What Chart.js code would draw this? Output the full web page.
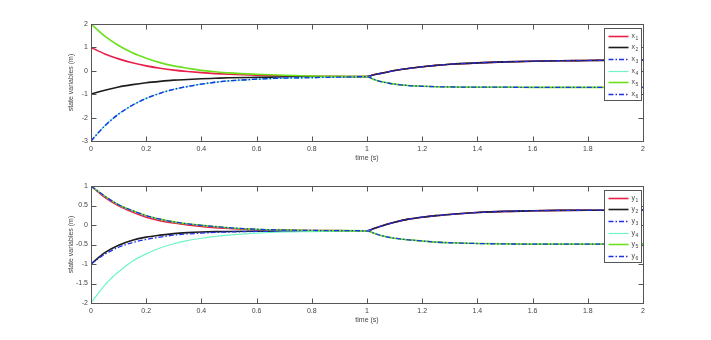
<!DOCTYPE html>
<html><head><meta charset="utf-8">
<script src="https://cdn.jsdelivr.net/npm/chart.js@4.4.1/dist/chart.umd.min.js"></script>
<style>
html,body{margin:0;padding:0;background:#fff;width:711px;height:340px;overflow:hidden}
.box{position:absolute;left:0;width:711px;height:170px}
</style></head><body>
<div class="box" style="top:0"><canvas id="c1"></canvas></div>
<div class="box" style="top:162px"><canvas id="c2"></canvas></div>
<script>
// ---- data ----
const time = [0,0.05,0.1,0.15,0.2,0.25,0.3,0.35,0.4,0.45,0.5,0.6,0.7,0.8,0.9,1.0,
              1.025,1.05,1.1,1.15,1.2,1.25,1.3,1.4,1.5,1.6,1.7,1.8,1.9,2.0];
const xTicks = [0,0.2,0.4,0.6,0.8,1,1.2,1.4,1.6,1.8,2];
const topYTicks = [-3,-2,-1,0,1,2];
const botYTicks = [-2,-1.5,-1,-0.5,0,0.5,1];

// top plot, phase 1 (t = 0 .. 1)
const x1Phase1 = [1,0.72,0.51,0.34,0.21,0.11,0.03,-0.03,-0.08,-0.12,-0.15,-0.19,-0.22,-0.23,-0.24,-0.25];
const x2Phase1 = [-1,-0.83,-0.69,-0.59,-0.51,-0.45,-0.40,-0.37,-0.34,-0.32,-0.30,-0.28,-0.265,-0.26,-0.255,-0.25];
const x3Phase1 = [-3,-2.35,-1.85,-1.47,-1.18,-0.96,-0.79,-0.67,-0.57,-0.49,-0.43,-0.36,-0.31,-0.29,-0.27,-0.25];
const x5Phase1 = [2,1.48,1.08,0.77,0.54,0.35,0.21,0.11,0.02,-0.04,-0.09,-0.15,-0.19,-0.22,-0.24,-0.25];
// top plot, phase 2 (t = 1.025 .. 2)
const xUpper = [-0.17,-0.11,0.01,0.10,0.17,0.23,0.28,0.34,0.38,0.41,0.43,0.44,0.45,0.45];
const xLower = [-0.37,-0.46,-0.57,-0.63,-0.66,-0.68,-0.69,-0.70,-0.70,-0.71,-0.71,-0.71,-0.71,-0.71];

// bottom plot, phase 1
const y1Phase1 = [1,0.71,0.49,0.33,0.20,0.11,0.05,0.00,-0.04,-0.07,-0.09,-0.12,-0.13,-0.14,-0.145,-0.15];
const y2Phase1 = [-1,-0.71,-0.52,-0.39,-0.31,-0.26,-0.22,-0.196,-0.18,-0.17,-0.165,-0.16,-0.155,-0.15,-0.15,-0.15];
const y3Phase1 = [-1,-0.75,-0.57,-0.45,-0.37,-0.31,-0.26,-0.23,-0.21,-0.19,-0.18,-0.165,-0.16,-0.155,-0.15,-0.15];
const y4Phase1 = [-2,-1.54,-1.20,-0.93,-0.74,-0.59,-0.48,-0.40,-0.34,-0.29,-0.26,-0.21,-0.18,-0.17,-0.16,-0.15];
const y5Phase1 = [1,0.74,0.52,0.37,0.24,0.15,0.08,0.03,-0.01,-0.04,-0.07,-0.11,-0.13,-0.14,-0.145,-0.15];
// bottom plot, phase 2
const yUpper = [-0.09,-0.03,0.07,0.15,0.20,0.24,0.27,0.32,0.35,0.365,0.375,0.38,0.38,0.38];
const yLower = [-0.21,-0.27,-0.34,-0.38,-0.41,-0.44,-0.455,-0.475,-0.485,-0.49,-0.49,-0.49,-0.49,-0.49];

const x1 = [...x1Phase1, ...xUpper];
const x2 = [...x2Phase1, ...xUpper];
const x3 = [...x3Phase1, ...xUpper];
const x4 = [...x3Phase1, ...xLower];
const x5 = [...x5Phase1, ...xLower];
const x6 = [...x3Phase1, ...xLower];

const y1 = [...y1Phase1, ...yUpper];
const y2 = [...y2Phase1, ...yUpper];
const y3 = [...y3Phase1, ...yUpper];
const y4 = [...y4Phase1, ...yLower];
const y5 = [...y5Phase1, ...yLower];
const y6 = [...y5Phase1, ...yLower];

// ---- styles ----
const styles = [
  {color:'#e8204a', width:1.6, dash:[]},
  {color:'#1c1c1c', width:1.6, dash:[]},
  {color:'#2030e8', width:1.3, dash:[5,2,1.5,2]},
  {color:'#6ff5c8', width:1.2, dash:[]},
  {color:'#6be01c', width:1.6, dash:[]},
  {color:'#2030e8', width:1.3, dash:[5,2,1.5,2]}
];
const FONT = '"Liberation Sans", Arial, sans-serif';
const TXT = '#444';

const framePlugin = {
  id:'frame',
  afterDraw(chart) {
    const {ctx, chartArea:a, scales:{x, y}} = chart;
    ctx.save();
    ctx.strokeStyle = '#555'; ctx.lineWidth = 1;
    const L = Math.round(a.left)+0.5, T = Math.round(a.top)+0.5;
    const R = Math.round(a.right)+0.5, B = Math.round(a.bottom)+0.5;
    ctx.strokeRect(L, T, R-L, B-T);
    const tl = 5;
    ctx.beginPath();
    x.ticks.forEach(t => {
      const p = Math.round(x.getPixelForValue(t.value))+0.5;
      ctx.moveTo(p, B); ctx.lineTo(p, B-tl);
      ctx.moveTo(p, T); ctx.lineTo(p, T+tl);
    });
    y.ticks.forEach(t => {
      const p = Math.round(y.getPixelForValue(t.value))+0.5;
      ctx.moveTo(L, p); ctx.lineTo(L+tl, p);
      ctx.moveTo(R, p); ctx.lineTo(R-tl, p);
    });
    ctx.stroke();
    // legend box inside top-right
    const bx = Math.round(a.right) - 38.5, by = T + 4, bw = 37, bh = 72;
    ctx.fillStyle = '#fff';
    ctx.fillRect(bx, by, bw, bh);
    ctx.strokeStyle = '#555';
    ctx.strokeRect(bx, by, bw, bh);
    chart.data.datasets.forEach((ds, i) => {
      const ly = Math.round(by + 7 + i*11.67) + 0.5;
      ctx.strokeStyle = ds.borderColor;
      ctx.lineWidth = ds.borderWidth;
      ctx.setLineDash(ds.borderDash || []);
      ctx.beginPath(); ctx.moveTo(bx+4, ly); ctx.lineTo(bx+24, ly); ctx.stroke();
      ctx.setLineDash([]);
      ctx.fillStyle = TXT;
      ctx.textBaseline = 'alphabetic';
      ctx.font = '7px ' + FONT;
      ctx.fillText(ds.label.charAt(0), bx+27, ly+1);
      ctx.font = '5px ' + FONT;
      ctx.fillText(ds.label.slice(1), bx+31, ly+3.5);
    });
    ctx.restore();
  }
};

function makeChart(id, series, letter, yMin, yMax, yTicks) {
  const datasets = series.map((vals, i) => ({
    label: letter + (i+1),
    data: time.map((t, k) => ({x: t, y: vals[k]})),
    borderColor: styles[i].color,
    borderWidth: styles[i].width,
    borderDash: styles[i].dash,
    pointRadius: 0,
    fill: false,
    cubicInterpolationMode: 'monotone',
    order: 6 - i
  }));
  return new Chart(document.getElementById(id), {
    type: 'line',
    data: {datasets},
    options: {
      responsive: true, maintainAspectRatio: false, animation: false,
      layout: {padding: {top: 24, right: 68, left: 0, bottom: 0}},
      plugins: {legend: {display: false}, tooltip: {enabled: false}},
      scales: {
        x: {
          type: 'linear', min: 0, max: 2,
          afterBuildTicks: s => { s.ticks = xTicks.map(v => ({value: v})); },
          afterFit: s => { s.height = 29; },
          grid: {display: false, drawTicks: false},
          border: {display: false},
          ticks: {padding: 4, color: TXT, font: {family: FONT, size: 7}, maxRotation: 0, autoSkip: false,
                  callback: v => String(v)},
          title: {display: true, text: 'time (s)', color: TXT, font: {family: FONT, size: 7},
                  padding: {top: 0, bottom: 8}}
        },
        y: {
          type: 'linear', min: yMin, max: yMax,
          afterBuildTicks: s => { s.ticks = yTicks.map(v => ({value: v})); },
          afterFit: s => { s.width = 91; },
          grid: {display: false, drawTicks: false},
          border: {display: false},
          ticks: {padding: 3, color: TXT, font: {family: FONT, size: 7}, autoSkip: false,
                  callback: v => String(v)},
          title: {display: true, text: 'state variables (m)', color: TXT, font: {family: FONT, size: 7},
                  padding: {top: 67, bottom: 0}}
        }
      }
    },
    plugins: [framePlugin]
  });
}

makeChart('c1', [x1, x2, x3, x4, x5, x6], 'x', -3, 2, topYTicks);
makeChart('c2', [y1, y2, y3, y4, y5, y6], 'y', -2, 1, botYTicks);
</script>
</body></html>
